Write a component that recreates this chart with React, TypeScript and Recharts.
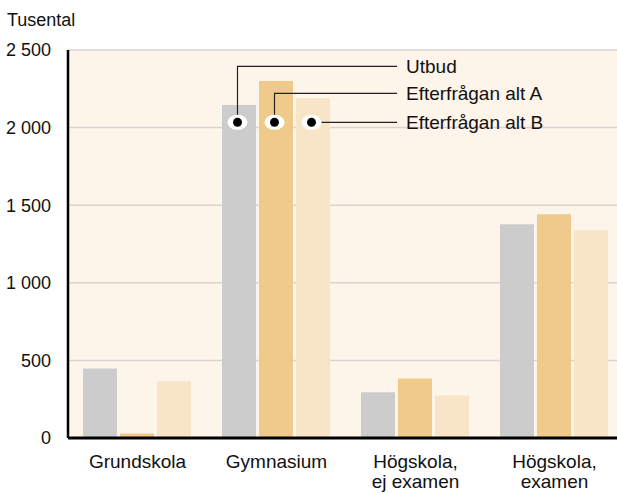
import { BarChart, Bar, XAxis, YAxis, CartesianGrid } from "recharts";

const categories = ["Grundskola", "Gymnasium", "Högskola,\nej examen", "Högskola,\nexamen"];
const utbud = [448, 2145, 294, 1377];
const altA = [29, 2300, 384, 1442];
const altB = [365, 2190, 274, 1339];
const yTicks = [0, 500, 1000, 1500, 2000, 2500];
const legendLabels = ["Utbud", "Efterfrågan alt A", "Efterfrågan alt B"];
const calloutValue = 2034;

const data = categories.map((name, i) => ({
  name,
  utbud: utbud[i],
  altA: altA[i],
  altB: altB[i],
}));

const font = "'Liberation Sans', Arial, sans-serif";
const fmt = (v: number) => String(v).replace(/\B(?=(\d{3})+(?!\d))/g, " ");

function XTick({ x, y, payload }: any) {
  const lines = String(payload.value).split("\n");
  return (
    <text x={x} y={y + 22} textAnchor="middle" fontSize={19} fill="#111" fontFamily={font}>
      {lines.map((l, i) => (
        <tspan key={i} x={x} dy={i === 0 ? 0 : 20}>
          {l}
        </tspan>
      ))}
    </text>
  );
}

// callout marker with leader line, drawn on the Gymnasium bar only
function callout(series: number, rise: number) {
  return (props: any) => {
    const { x, y, width, height, value, index } = props;
    if (index !== 1) return null;
    const cx = x + width / 2 - 1.5;
    const cy = y + height - (calloutValue * height) / value;
    const ly = cy - rise;
    const endX = 397;
    return (
      <g>
        <polyline
          points={`${cx},${cy} ${cx},${ly} ${endX},${ly}`}
          fill="none"
          stroke="#222"
          strokeWidth={1.2}
        />
        <ellipse cx={cx} cy={cy} rx={10} ry={7.5} fill="#fff" />
        <circle cx={cx} cy={cy} r={4.5} fill="#000" />
        <text x={406} y={ly} dy="0.36em" fontSize={19} fill="#111" fontFamily={font}>
          {legendLabels[series]}
        </text>
      </g>
    );
  };
}

export default function App() {
  return (
    <div style={{ position: "absolute", left: 0, top: 0, width: 617, height: 493, overflow: "hidden", background: "#fff" }}>
      <div style={{ position: "absolute", left: 7, top: 10, fontSize: 18, fontFamily: font, color: "#111" }}>
        Tusental
      </div>
      <BarChart
        width={630}
        height={493}
        data={data}
        margin={{ top: 50, right: 6, bottom: 0, left: 0 }}
        barCategoryGap={15}
        barGap={3}
      >
        <CartesianGrid vertical={false} stroke="#d9d5d1" strokeWidth={1.5} fill="#fdf4ea" />
        <XAxis
          dataKey="name"
          height={55}
          tick={<XTick />}
          tickLine={false}
          axisLine={{ stroke: "#000", strokeWidth: 3 }}
          interval={0}
        />
        <YAxis
          width={68}
          domain={[0, 2500]}
          ticks={yTicks}
          tickFormatter={fmt}
          tickLine={false}
          tickMargin={11}
          axisLine={{ stroke: "#000", strokeWidth: 2.5 }}
          tick={{ fontSize: 18, fill: "#111", fontFamily: font }}
        />
        <Bar dataKey="utbud" fill="#cccccc" isAnimationActive={false} label={callout(0, 56)} />
        <Bar dataKey="altA" fill="#f0ca8a" isAnimationActive={false} label={callout(1, 29)} />
        <Bar dataKey="altB" fill="#f8e4c6" isAnimationActive={false} label={callout(2, 0)} />
      </BarChart>
    </div>
  );
}
